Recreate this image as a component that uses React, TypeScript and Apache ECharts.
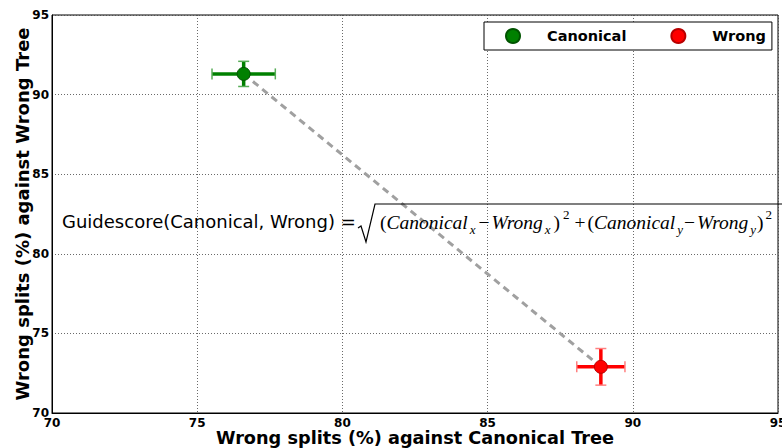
import React, { useEffect, useRef } from "react";
import * as echarts from "echarts";

const seriesNames = ["Canonical", "Wrong"];
const seriesColors = ["#008000", "#ff0000"];
const edgeColors = ["#005400", "#b80000"];
const capColors = ["#58ad58", "#ff8080"];
const xValues = [76.6, 88.9];
const yValues = [91.3, 72.9];
const xErrors = [1.09, 0.83];
const yErrors = [0.79, 1.15];
const axisMin = 70;
const axisMax = 95;
const axisStep = 5;
const xAxisTitle = "Wrong splits (%) against Canonical Tree";
const yAxisTitle = "Wrong splits (%) against Wrong Tree";
const formulaLabel = "Guidescore(Canonical, Wrong) =";

const SANS = "DejaVu Sans";
const SERIF = "Liberation Serif";

export default function App() {
  const ref = useRef<HTMLDivElement>(null);
  useEffect(() => {
    if (!ref.current) return;
    const chart = echarts.init(ref.current, null, { renderer: "svg" });

    const errorSeries = seriesNames.map((_, i) => ({
      type: "custom",
      z: 3,
      silent: true,
      data: [[xValues[i], yValues[i], xErrors[i], yErrors[i]]],
      renderItem: (_p: any, api: any) => {
        const x = api.value(0);
        const y = api.value(1);
        const xe = api.value(2);
        const ye = api.value(3);
        const l = api.coord([x - xe, y]);
        const r = api.coord([x + xe, y]);
        const t = api.coord([x, y + ye]);
        const b = api.coord([x, y - ye]);
        const col = seriesColors[i];
        const cap = capColors[i];
        const h = 5.5;
        return {
          type: "group",
          children: [
            { type: "line", shape: { x1: l[0], y1: l[1], x2: r[0], y2: r[1] }, style: { stroke: col, lineWidth: 3.5 } },
            { type: "line", shape: { x1: t[0], y1: t[1], x2: b[0], y2: b[1] }, style: { stroke: col, lineWidth: 3.5 } },
            { type: "line", shape: { x1: l[0], y1: l[1] - h, x2: l[0], y2: l[1] + h }, style: { stroke: cap, lineWidth: 1.5 } },
            { type: "line", shape: { x1: r[0], y1: r[1] - h, x2: r[0], y2: r[1] + h }, style: { stroke: cap, lineWidth: 1.5 } },
            { type: "line", shape: { x1: t[0] - h, y1: t[1], x2: t[0] + h, y2: t[1] }, style: { stroke: cap, lineWidth: 1.5 } },
            { type: "line", shape: { x1: b[0] - h, y1: b[1], x2: b[0] + h, y2: b[1] }, style: { stroke: cap, lineWidth: 1.5 } },
          ],
        };
      },
    }));

    const pointSeries = seriesNames.map((name, i) => ({
      type: "scatter",
      name,
      z: 4,
      symbol: "circle",
      symbolSize: 13,
      itemStyle: { color: seriesColors[i], borderColor: edgeColors[i], borderWidth: 1, opacity: 1 },
      data: [[xValues[i], yValues[i]]],
    }));

    const FS = 19.5;
    const mathMain = { fontFamily: SERIF, fontStyle: "italic", fontSize: FS, lineHeight: 28, color: "#000" };
    const mathUp = { fontFamily: SERIF, fontStyle: "normal", fontSize: FS, lineHeight: 28, color: "#000" };
    const mathSub = { fontFamily: SERIF, fontStyle: "italic", fontSize: 13, lineHeight: 12, verticalAlign: "bottom", color: "#000", padding: [0, 3, 0, 2] };
    const mathSub2 = { fontFamily: SERIF, fontStyle: "italic", fontSize: 13, lineHeight: 12, verticalAlign: "bottom", color: "#000", padding: [0, 1, 0, 2] };
    const mathSup = { fontFamily: SERIF, fontStyle: "normal", fontSize: 13, lineHeight: 14, verticalAlign: "top", color: "#000", padding: [0, 5, 0, 3] };
    const mathSup2 = { fontFamily: SERIF, fontStyle: "normal", fontSize: 13, lineHeight: 14, verticalAlign: "top", color: "#000", padding: [0, 0, 0, 2] };
    const mathOp = { fontFamily: SERIF, fontStyle: "normal", fontSize: FS, lineHeight: 28, color: "#000", padding: [0, 2, 0, 0] };

    const option: any = {
      animation: false,
      backgroundColor: "#fff",
      grid: {
        left: 52,
        right: 4,
        top: 15,
        bottom: 35,
        show: true,
        borderColor: "#000",
        borderWidth: 1,
        containLabel: false,
        outerBoundsMode: "none",
      },
      legend: {
        data: seriesNames.map((n) => ({ name: n, icon: "circle" })),
        left: 484,
        top: 22,
        orient: "horizontal",
        itemWidth: 14,
        itemHeight: 14,
        itemGap: 44,
        padding: [6, 6, 6, 21],
        borderColor: "#000",
        borderWidth: 1,
        borderRadius: 0,
        backgroundColor: "#fff",
        textStyle: {
          fontFamily: SANS,
          fontWeight: "bold",
          fontSize: 14.5,
          color: "#000",
          lineHeight: 14,
          padding: [0, 0, 0, 22],
        },
        selectedMode: false,
      },
      xAxis: {
        type: "value",
        min: axisMin,
        max: axisMax,
        interval: axisStep,
        name: xAxisTitle,
        nameLocation: "middle",
        nameGap: 16,
        nameMoveOverlap: false,
        nameTextStyle: { fontFamily: SANS, fontWeight: "bold", fontSize: 17.7, lineHeight: 18, color: "#000" },
        axisLine: { show: true, lineStyle: { color: "#000", width: 1 } },
        axisTick: { show: false },
        axisLabel: { margin: 5, fontFamily: SANS, fontWeight: "bold", fontSize: 12, lineHeight: 10, color: "#000", showMinLabel: true, showMaxLabel: true },
        splitLine: { show: true, lineStyle: { color: "#444", width: 0.8, type: [1, 2] } },
      },
      yAxis: {
        type: "value",
        min: axisMin,
        max: axisMax,
        interval: axisStep,
        name: yAxisTitle,
        nameLocation: "middle",
        nameGap: 21,
        nameMoveOverlap: false,
        nameTextStyle: { fontFamily: SANS, fontWeight: "bold", fontSize: 18, color: "#000" },
        axisLine: { show: true, lineStyle: { color: "#000", width: 1 } },
        axisTick: { show: false },
        axisLabel: { margin: 3, fontFamily: SANS, fontWeight: "bold", fontSize: 12, color: "#000", showMinLabel: true, showMaxLabel: true },
        splitLine: { show: true, lineStyle: { color: "#444", width: 0.8, type: [1, 2] } },
      },
      series: [
        {
          type: "line",
          z: 2,
          silent: true,
          symbol: "none",
          lineStyle: { color: "#a0a0a0", width: 3, type: [7, 5] },
          data: xValues.map((x, i) => [x, yValues[i]]),
        },
        ...errorSeries,
        ...pointSeries,
      ],
      graphic: [
        {
          type: "text",
          z: 10,
          x: 62,
          y: 221,
          style: { text: formulaLabel, fontFamily: SANS, fontSize: 18, fill: "#000", verticalAlign: "middle", align: "left" },
        },
        {
          type: "polyline",
          z: 10,
          shape: { points: [[358, 228], [361, 226], [366, 242], [375, 204], [782, 204]] },
          style: { stroke: "#000", lineWidth: 1.2, fill: null },
        },
        {
          type: "text",
          z: 10,
          x: 380,
          y: 222,
          style: {
            text:
              "{u|(}{m|Canonical}{b|x}{o|−}{m|Wrong}{b|x}{u|)}{p|2}{o|+}{u|(}{m|Canonical}{c|y}{o|−}{m|Wrong}{c|y}{u|)}{q|2}",
            verticalAlign: "middle",
            align: "left",
            rich: { m: mathMain, u: mathUp, b: mathSub, c: mathSub2, p: mathSup, q: mathSup2, o: mathOp },
          },
        },
      ],
    };
    chart.setOption(option);
    return () => chart.dispose();
  }, []);
  return <div ref={ref} style={{ width: 782, height: 448, position: "absolute", left: 0, top: 0 }} />;
}
